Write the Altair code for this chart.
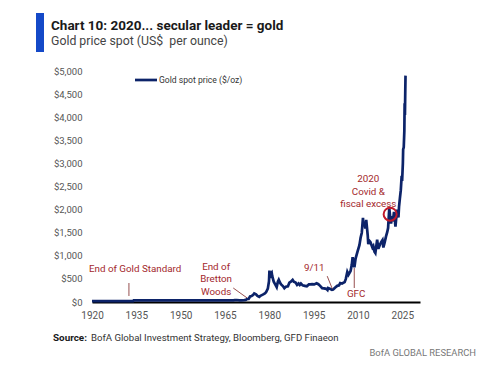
import altair as alt
import pandas as pd

# ---------------- data ----------------
years = [1920.0, 1933.9, 1934.1, 1967.9, 1968.3, 1969.0, 1969.9, 1970.5, 1971.5, 1972.0,
         1972.5, 1973.0, 1973.5, 1974.0, 1974.5, 1974.9, 1975.5, 1976.0, 1976.6, 1977.0,
         1977.8, 1978.5, 1978.9, 1979.5, 1979.9, 1980.05, 1980.2, 1980.5, 1980.8, 1981.0,
         1981.5, 1982.0, 1982.5, 1982.9, 1983.2, 1983.6, 1984.0, 1984.6, 1985.1, 1985.6,
         1986.3, 1986.8, 1987.3, 1987.9, 1988.3, 1988.9, 1989.4, 1989.9, 1990.3, 1990.7,
         1991.3, 1992.0, 1992.7, 1993.4, 1993.9, 1994.5, 1995.2, 1996.0, 1996.6, 1997.2,
         1997.9, 1998.5, 1999.3, 1999.7, 1999.9, 2000.5, 2001.2, 2001.6, 2002.4, 2003.0,
         2003.6, 2004.0, 2004.6, 2005.5, 2005.9, 2006.4, 2006.8, 2007.5, 2007.9, 2008.2,
         2008.8, 2009.2, 2009.9, 2010.5, 2010.9, 2011.3, 2011.7, 2011.9, 2012.2, 2012.5,
         2012.8, 2013.3, 2013.5, 2013.8, 2014.2, 2014.9, 2015.2, 2015.6, 2015.9, 2016.5,
         2016.9, 2017.5, 2017.9, 2018.3, 2018.6, 2019.0, 2019.5, 2019.9, 2020.2, 2020.6,
         2020.9, 2021.2, 2021.5, 2021.9, 2022.2, 2022.7, 2022.9, 2023.3, 2023.7, 2023.9,
         2024.2, 2024.5, 2024.8, 2024.95, 2025.2, 2025.3, 2025.5, 2025.7, 2025.8, 2025.9,
         2026.0, 2026.1]
prices = [20.67, 20.67, 35, 35, 40, 43, 35, 36, 41, 46,
          65, 65, 120, 130, 150, 185, 165, 130, 110, 135,
          160, 185, 210, 290, 450, 680, 520, 620, 640, 560,
          440, 380, 320, 440, 480, 420, 380, 345, 300, 330,
          340, 420, 440, 480, 440, 420, 370, 400, 370, 400,
          360, 350, 340, 380, 380, 385, 380, 405, 385, 350,
          300, 295, 285, 260, 300, 285, 265, 270, 320, 350,
          360, 410, 400, 430, 500, 650, 590, 670, 800, 970,
          750, 940, 1100, 1230, 1390, 1500, 1820, 1640, 1740, 1590,
          1780, 1450, 1250, 1330, 1300, 1180, 1210, 1090, 1060, 1350,
          1150, 1250, 1300, 1340, 1180, 1280, 1420, 1510, 1600, 2030,
          1850, 1700, 1820, 1790, 1950, 1630, 1780, 2000, 1830, 2060,
          2250, 2420, 2730, 2620, 3000, 3300, 3350, 3700, 4300, 4050,
          4500, 4900]

x_ticks = [1920, 1935, 1950, 1965, 1980, 1995, 2010, 2025]
y_ticks = [0, 500, 1000, 1500, 2000, 2500, 3000, 3500, 4000, 4500, 5000]

ann_text = ["End of Gold Standard", "End of\nBretton\nWoods", "9/11", "GFC",
            "2020\nCovid &\nfiscal excess"]
ann_x = [1934.6, 1962.0, 1995.2, 2009.4, 2013.5]
ann_y = [714, 758, 736, 173, 2662]

lead_x = [1932.5, 1967.8, 1999.6, 2008.75]
lead_x2 = [1932.5, 1972.5, 2001.3, 2008.75]
lead_y = [411, 303, 560, 736]
lead_y2 = [130, 87, 290, 303]

circ_x = [2020.9]
circ_y = [1900]

title = "Chart 10: 2020... secular leader = gold"
subtitle = "Gold price spot (US$\u00a0 per ounce)"
legend_label = "Gold spot price ($/oz)"
source_bold = "Source:"
source_rest = "BofA Global Investment Strategy, Bloomberg, GFD Finaeon"
brand = "BofA GLOBAL RESEARCH"

FONT = "Roboto, sans-serif"
NAVY = "#0c2369"
RED = "#a3282c"

xs = alt.Scale(domain=[1920, 2031], nice=False, zero=False)
ys = alt.Scale(domain=[0, 5000], nice=False)

xa = alt.Axis(values=x_ticks, format="d", title=None, ticks=False,
              grid=False, domainColor="black", domainWidth=2,
              labelFont=FONT, labelFontSize=10, labelColor="#555555",
              labelPadding=8, labelFlush=False, labelOverlap=False)
ya = alt.Axis(values=y_ticks, format="$,.0f", title=None, ticks=False,
              grid=False, domain=False, labelFont=FONT, labelFontSize=9.5,
              labelColor="#555555", labelPadding=10, labelOverlap=False,
              labelFlush=False)

df = pd.DataFrame({"year": years, "price": prices})

line = alt.Chart(df).mark_line(color=NAVY, strokeWidth=2.7).encode(
    x=alt.X("year:Q", scale=xs, axis=xa),
    y=alt.Y("price:Q", scale=ys, axis=ya),
)

ann_df = pd.DataFrame({"t": ann_text, "year": ann_x, "price": ann_y})
ann = alt.Chart(ann_df).mark_text(font=FONT, fontSize=9.8, color=RED, lineBreak="\n",
                                  lineHeight=12.5, align="center", baseline="middle").encode(
    x=alt.X("year:Q", scale=xs, axis=xa), y=alt.Y("price:Q", scale=ys, axis=ya), text="t:N")

lead_df = pd.DataFrame({"year": lead_x, "x2": lead_x2, "price": lead_y, "y2": lead_y2})
leads = alt.Chart(lead_df).mark_rule(color="#8a3a3a", strokeWidth=0.9).encode(
    x=alt.X("year:Q", scale=xs, axis=xa), x2="x2:Q",
    y=alt.Y("price:Q", scale=ys, axis=ya), y2="y2:Q")

circ_df = pd.DataFrame({"year": circ_x, "price": circ_y})
circ = alt.Chart(circ_df).mark_point(shape="circle", size=170, filled=False,
                                     color="#c0192a", strokeWidth=2, opacity=1).encode(
    x=alt.X("year:Q", scale=xs, axis=xa), y=alt.Y("price:Q", scale=ys, axis=ya))

one = pd.DataFrame({"a": [0]})

bar = alt.Chart(one).mark_rect(color="#1449c8").encode(
    x=alt.value(-56), x2=alt.value(-48), y=alt.value(-58), y2=alt.value(-19))

def txt(s, x, y, size, color, weight="normal", align="left"):
    return alt.Chart(pd.DataFrame({"t": [s]})).mark_text(
        font=FONT, fontSize=size, color=color, fontWeight=weight, align=align,
        baseline="middle").encode(x=alt.value(x), y=alt.value(y), text="t:N")

t_title = txt(title, -41, -45, 13.5, "#1a1a1a", "bold")
t_sub = txt(subtitle, -41, -30, 12.3, "#444444")
t_src1 = txt(source_bold, -39, 267, 9.9, "#1a1a1a", "bold")
t_src2 = txt(source_rest, -1, 267, 9.6, "#333333")
t_brand = txt(brand, 384, 282, 9.4, "#777777", align="right")
t_leg = txt(legend_label, 67, 9, 8.6, "#333333")

leg_line = alt.Chart(one).mark_rule(color=NAVY, strokeWidth=2.7).encode(
    x=alt.value(43), x2=alt.value(65), y=alt.value(9))

chart = alt.layer(
    line, leads, ann, circ, bar, t_title, t_sub, t_src1, t_src2, t_brand, t_leg, leg_line
).properties(
    width=328, height=231,
    autosize=alt.AutoSizeParams(type="none"),
    padding={"left": 84, "top": 63, "right": 72, "bottom": 64},
).configure_view(stroke=None)

chart.save("out.html", embed_options={"renderer": "svg", "actions": False})
